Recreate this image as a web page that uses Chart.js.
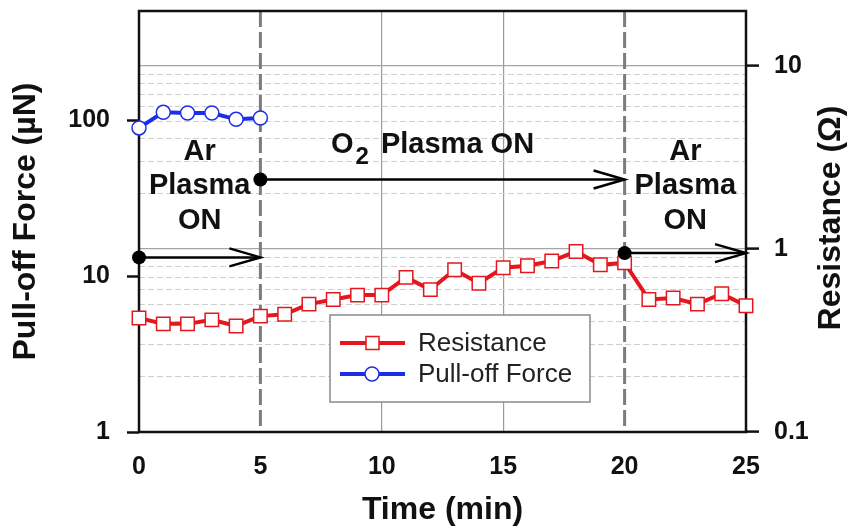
<!DOCTYPE html>
<html>
<head>
<meta charset="utf-8">
<script src="https://cdn.jsdelivr.net/npm/chart.js@4"></script>
<style>
  html, body { margin: 0; padding: 0; background: #fff; }
</style>
</head>
<body>
<canvas id="chart" width="849" height="532"></canvas>
<script>
// Data
const timeMin = [0, 1, 2, 3, 4, 5, 6, 7, 8, 9, 10, 11, 12, 13, 14, 15, 16, 17, 18, 19, 20, 21, 22, 23, 24, 25];
const resistance = [0.42, 0.39, 0.39, 0.41, 0.38, 0.43, 0.44, 0.50, 0.53, 0.56, 0.56, 0.70, 0.60, 0.77, 0.65,
  0.79, 0.81, 0.86, 0.97, 0.82, 0.84, 0.53, 0.54, 0.50, 0.57, 0.49];
const pullOffTime = [0, 1, 2, 3, 4, 5];
const pullOffForce = [89, 112, 111, 111, 101, 103];

// Plasma phases (arrows), level on the resistance axis
const phaseStart = [0, 5, 20];
const phaseEnd = [5, 20, 25];
const phaseLevel = [0.9, 2.4, 0.95];
const phaseBounds = [5, 20];

const xTicks = [0, 5, 10, 15, 20, 25];
const forceTicks = [1, 10, 100];
const resTicks = [0.1, 1, 10];

const RED = '#e3171d';
const BLUE = '#1c2ee6';
const FONT = '"Liberation Sans", Arial, sans-serif';

function isDecade(v) {
  const l = Math.log10(v);
  return Math.abs(l - Math.round(l)) < 1e-6;
}
function isWholeStep(v) {
  const s = v / Math.pow(10, Math.floor(Math.log10(v) + 1e-9));
  return Math.abs(s - Math.round(s)) < 1e-6;
}
function noPad(s) {
  s.paddingTop = 0;
  s.paddingBottom = 0;
  s.paddingLeft = 0;
  s.paddingRight = 0;
}

const decor = {
  id: 'decor',
  beforeDatasetsDraw(chart) {
    const { ctx, chartArea: a, scales } = chart;
    ctx.save();
    // phase boundaries
    ctx.strokeStyle = '#7c7c7c';
    ctx.lineWidth = 3;
    ctx.setLineDash([16, 5]);
    phaseBounds.forEach(t => {
      const x = scales.x.getPixelForValue(t);
      ctx.beginPath();
      ctx.moveTo(x, a.top);
      ctx.lineTo(x, a.bottom);
      ctx.stroke();
    });
    ctx.setLineDash([]);
    // frame
    ctx.strokeStyle = '#111';
    ctx.lineWidth = 2.5;
    ctx.strokeRect(a.left, a.top, a.right - a.left, a.bottom - a.top);
    ctx.restore();
  },
  afterDatasetsDraw(chart) {
    const { ctx, scales } = chart;
    const x = scales.x, y1 = scales.y1;
    ctx.save();
    // arrows
    ctx.strokeStyle = '#000';
    ctx.fillStyle = '#000';
    ctx.lineWidth = 2.5;
    phaseStart.forEach((t, i) => {
      const xs = x.getPixelForValue(t);
      const xe = x.getPixelForValue(phaseEnd[i]);
      const yy = y1.getPixelForValue(phaseLevel[i]);
      ctx.beginPath();
      ctx.moveTo(xs, yy);
      ctx.lineTo(xe, yy);
      ctx.stroke();
      ctx.beginPath();
      ctx.moveTo(xe - 31, yy - 9);
      ctx.lineTo(xe, yy);
      ctx.lineTo(xe - 31, yy + 9);
      ctx.stroke();
      ctx.beginPath();
      ctx.arc(xs, yy, 7, 0, Math.PI * 2);
      ctx.fill();
    });

    // phase labels
    ctx.fillStyle = '#111';
    ctx.font = 'bold 29px ' + FONT;
    ctx.textAlign = 'center';
    ctx.textBaseline = 'middle';
    [2.5, 22.5].forEach(t => {
      const cx = x.getPixelForValue(t);
      ctx.fillText('Ar', cx, 152);
      ctx.fillText('Plasma', cx, 186);
      ctx.fillText('ON', cx, 221);
    });
    ctx.textAlign = 'left';
    ctx.fillText('O', 331, 145);
    const wO = ctx.measureText('O').width;
    ctx.font = 'bold 24px ' + FONT;
    ctx.fillText('2', 331 + wO + 2, 157);
    const w2 = ctx.measureText('2').width;
    ctx.font = 'bold 29px ' + FONT;
    ctx.fillText(' Plasma ON', 331 + wO + w2 + 6, 145);

    // legend
    ctx.fillStyle = '#fff';
    ctx.fillRect(330, 315, 260, 87);
    ctx.strokeStyle = '#8a8a8a';
    ctx.lineWidth = 1.5;
    ctx.strokeRect(330, 315, 260, 87);
    const entries = [
      { label: 'Resistance', color: RED, y: 343, shape: 'rect' },
      { label: 'Pull-off Force', color: BLUE, y: 374, shape: 'circle' }
    ];
    entries.forEach(e => {
      ctx.strokeStyle = e.color;
      ctx.lineWidth = 4;
      ctx.beginPath();
      ctx.moveTo(340, e.y);
      ctx.lineTo(405, e.y);
      ctx.stroke();
      ctx.fillStyle = '#fff';
      ctx.lineWidth = 1.5;
      ctx.beginPath();
      if (e.shape === 'rect') ctx.rect(366, e.y - 6.5, 13, 13);
      else ctx.arc(372, e.y, 7, 0, Math.PI * 2);
      ctx.fill();
      ctx.stroke();
      ctx.fillStyle = '#222';
      ctx.font = '26px ' + FONT;
      ctx.textAlign = 'left';
      ctx.textBaseline = 'middle';
      ctx.fillText(e.label, 418, e.y + 1);
    });
    ctx.restore();
  },
  afterDraw(chart) {
    const { ctx } = chart;
    ctx.save();
    ctx.translate(831, 218);
    ctx.rotate(-Math.PI / 2);
    ctx.fillStyle = '#111';
    ctx.font = 'bold 32px ' + FONT;
    ctx.textAlign = 'center';
    ctx.textBaseline = 'middle';
    ctx.fillText('Resistance (\u03A9)', 0, 0);
    ctx.restore();
  }
};

new Chart(document.getElementById('chart'), {
  type: 'line',
  data: {
    datasets: [
      {
        label: 'Resistance',
        data: timeMin.map((t, i) => ({ x: t, y: resistance[i] })),
        yAxisID: 'y1',
        borderColor: RED,
        borderWidth: 4,
        pointStyle: 'rect',
        pointRadius: 9.5,
        pointBorderWidth: 1.5,
        pointBackgroundColor: '#fff',
        pointBorderColor: RED,
        tension: 0,
        clip: false
      },
      {
        label: 'Pull-off Force',
        data: pullOffTime.map((t, i) => ({ x: t, y: pullOffForce[i] })),
        yAxisID: 'y',
        borderColor: BLUE,
        borderWidth: 4,
        pointStyle: 'circle',
        pointRadius: 7,
        pointBorderWidth: 1.5,
        pointBackgroundColor: '#fff',
        pointBorderColor: BLUE,
        tension: 0,
        clip: false
      }
    ]
  },
  options: {
    responsive: false,
    animation: false,
    layout: { padding: { top: 9, left: 0, right: 0, bottom: 0 } },
    plugins: { legend: { display: false }, tooltip: { enabled: false } },
    scales: {
      x: {
        type: 'linear',
        min: 0,
        max: 25,
        afterFit: s => { s.height = 100; noPad(s); },
        afterBuildTicks: s => { s.ticks = xTicks.map(v => ({ value: v })); },
        grid: {
          drawTicks: false,
          color: c => (c.tick && (c.tick.value === 10 || c.tick.value === 15)) ? '#9a9a9a' : 'rgba(0,0,0,0)',
          lineWidth: 1.2
        },
        border: { display: false },
        ticks: { color: '#111', padding: 20, font: { family: FONT, size: 25, weight: 'bold' } },
        title: {
          display: true, text: 'Time (min)', color: '#111',
          padding: { top: 0, bottom: 3 },
          font: { family: FONT, size: 32, weight: 'bold' }
        }
      },
      y: {
        type: 'logarithmic',
        position: 'left',
        min: 1,
        max: 500,
        afterFit: s => { s.width = 139; noPad(s); },
        grid: {
          drawOnChartArea: false,
          tickLength: 12,
          tickWidth: 2.5,
          tickColor: c => (c.tick && forceTicks.some(v => Math.abs(v - c.tick.value) < 1e-6)) ? '#111' : 'rgba(0,0,0,0)'
        },
        border: { display: false },
        ticks: {
          autoSkip: false,
          padding: 17,
          color: '#111',
          font: { family: FONT, size: 25, weight: 'bold' },
          callback: v => forceTicks.some(t => Math.abs(t - v) < 1e-6) ? String(v) : ''
        },
        title: {
          display: true, text: 'Pull-off Force (\u00B5N)', color: '#111',
          padding: { top: 7, bottom: 0 },
          font: { family: FONT, size: 32, weight: 'bold' }
        }
      },
      y1: {
        type: 'logarithmic',
        position: 'right',
        min: 0.1,
        max: 20,
        afterFit: s => { s.width = 103; noPad(s); },
        grid: {
          color: c => {
            if (!c.tick) return 'rgba(0,0,0,0)';
            const v = c.tick.value;
            if (v >= 19.9 || !isWholeStep(v)) return 'rgba(0,0,0,0)';
            return isDecade(v) ? '#a6a6a6' : '#cfcfcf';
          },
          lineWidth: c => (c.tick && isDecade(c.tick.value)) ? 1.2 : 1,
          tickLength: 13,
          tickWidth: 2.5,
          tickColor: c => (c.tick && resTicks.some(v => Math.abs(v - c.tick.value) < 1e-6)) ? '#111' : 'rgba(0,0,0,0)'
        },
        border: {
          display: false,
          dash: c => (c.tick && !isDecade(c.tick.value)) ? [6, 3] : []
        },
        ticks: {
          autoSkip: false,
          padding: 15,
          color: '#111',
          font: { family: FONT, size: 25, weight: 'bold' },
          callback: v => resTicks.some(t => Math.abs(t - v) < 1e-6) ? String(v) : ''
        }
      }
    }
  },
  plugins: [decor]
});
</script>
</body>
</html>
